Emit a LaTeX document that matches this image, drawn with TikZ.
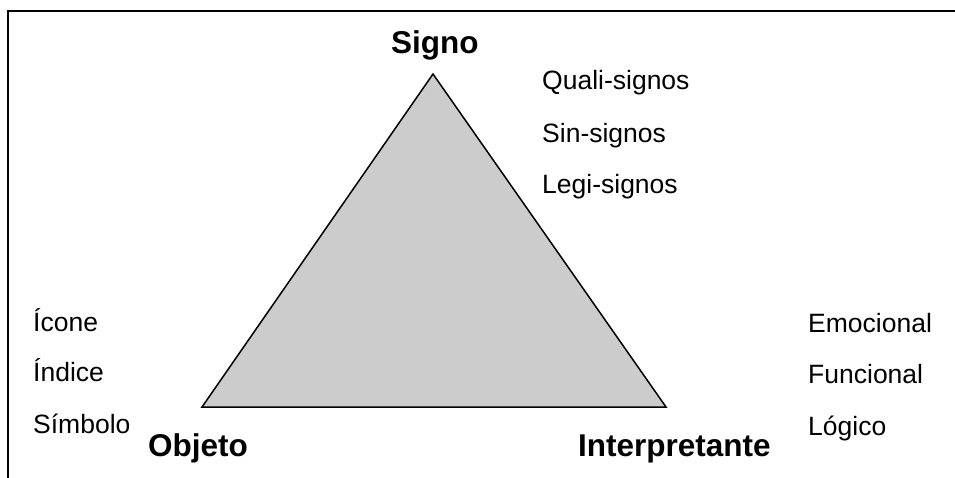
\documentclass[tikz,border=0pt]{standalone}
\usepackage{fontspec}
\setmainfont{Liberation Sans}
\begin{document}
\begin{tikzpicture}[x=1pt,y=-1pt,
  lbl/.style={anchor=base west,inner sep=0pt,font=\fontsize{26.5}{30}\selectfont},
  vtx/.style={anchor=base west,inner sep=0pt,font=\fontsize{31.5}{36}\selectfont\bfseries},
  frame/.style={line width=2pt,line cap=rect}]
\useasboundingbox (0,0) rectangle (955,477);
\coordinate (fa) at (8,477);
\coordinate (fb) at (8,11);
\coordinate (fc) at (955,11);
\draw[frame] (fa) -- (fb) -- (fc);
\coordinate (S) at (433,74);
\coordinate (O) at (202,407);
\coordinate (I) at (666,407);
\filldraw[fill={rgb,255:red,204;green,204;blue,204},line width=1.5pt,line join=miter] (S) -- (O) -- (I) -- cycle;
\node[vtx] (signo) at (391,53) {Signo};
\node[vtx] (objeto) at (148,456) {Objeto};
\node[vtx] (interp) at (578,456) {Interpretante};
\node[lbl] (q) at (542,89) {Quali-signos};
\node[lbl] (s) at (542,142) {Sin-signos};
\node[lbl] (l) at (542,193) {Legi-signos};
\node[lbl] (ic) at (33,331) {Ícone};
\node[lbl] (in) at (33,381) {Índice};
\node[lbl] (sm) at (33,433) {Símbolo};
\node[lbl] (em) at (808,332) {Emocional};
\node[lbl] (fu) at (808,383) {Funcional};
\node[lbl] (lo) at (808,435) {Lógico};
\end{tikzpicture}
\end{document}
